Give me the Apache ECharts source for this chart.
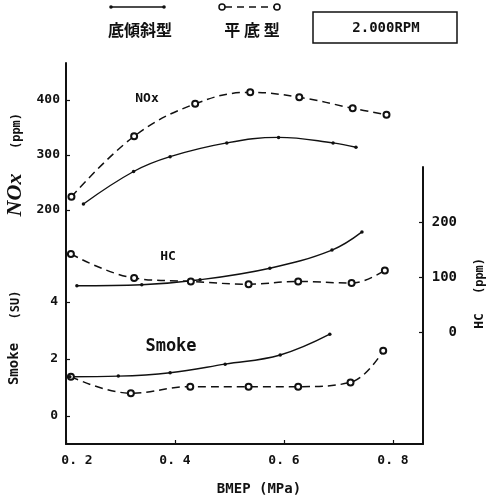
<!DOCTYPE html>
<html>
<head>
<meta charset="utf-8">
<script src="https://cdn.jsdelivr.net/npm/echarts@6/dist/echarts.min.js"></script>
<style>
  html, body { margin: 0; padding: 0; background: #fff; }
  #main { width: 488px; height: 499px; }
</style>
</head>
<body>
<div id="main"></div>
<script>
// BMEP (MPa) positions and values
var bmepNoxFlat = [0.21, 0.325, 0.437, 0.538, 0.628, 0.726, 0.788];
var noxFlat = [224, 334, 393, 414, 405, 385, 373];
var bmepNoxIncl = [0.232, 0.324, 0.391, 0.495, 0.59, 0.69, 0.732];
var noxIncl = [211, 270, 297, 322, 332, 322, 314];

var bmepHcFlat = [0.209, 0.325, 0.429, 0.535, 0.626, 0.724, 0.785];
var hcFlat = [142, 98, 92, 87, 92, 89, 112];
var bmepHcIncl = [0.22, 0.339, 0.446, 0.574, 0.688, 0.743];
var hcIncl = [84, 86, 95, 116, 149, 182];

var bmepSmokeFlat = [0.209, 0.319, 0.428, 0.535, 0.626, 0.722, 0.782];
var smokeFlat = [1.38, 0.80, 1.03, 1.03, 1.03, 1.18, 2.29];
var bmepSmokeIncl = [0.207, 0.296, 0.391, 0.492, 0.593, 0.684];
var smokeIncl = [1.38, 1.40, 1.52, 1.82, 2.14, 2.87];

var xTicks = [0.2, 0.4, 0.6, 0.8];
var noxTicks = [200, 300, 400];
var smokeTicks = [0, 2, 4];
var hcTicks = [0, 100, 200];

var INK = '#111';
var MONO = 'DejaVu Sans Mono';

function pairs(xs, ys) {
  return xs.map(function (x, i) { return [x, ys[i]]; });
}

// 平底型: dashed, open circles
function flatSeries(xs, ys, xi, yi) {
  return {
    type: 'line', xAxisIndex: xi, yAxisIndex: yi,
    data: pairs(xs, ys),
    smooth: 0.4,
    symbol: 'emptyCircle', symbolSize: 6,
    itemStyle: { color: INK, borderWidth: 1.4 },
    lineStyle: { color: INK, width: 1.5, type: [8, 5] },
    animation: false
  };
}

// 底傾斜型: solid, small dots
function inclSeries(xs, ys, xi, yi) {
  return {
    type: 'line', xAxisIndex: xi, yAxisIndex: yi,
    data: pairs(xs, ys),
    smooth: 0.4,
    symbol: 'circle', symbolSize: 3.5,
    itemStyle: { color: INK },
    lineStyle: { color: INK, width: 1.4 },
    animation: false
  };
}

function text(x, y, str, font, rot) {
  return {
    type: 'text', x: x, y: y, rotation: rot || 0,
    style: {
      text: str, fill: INK, font: font,
      align: 'center', verticalAlign: 'middle'
    }
  };
}

var chart = echarts.init(document.getElementById('main'));

function tick(vals) {
  return { inside: true, length: 4, customValues: vals, lineStyle: { color: INK, width: 1.2 } };
}

var option = {
  backgroundColor: '#fff',
  grid: [
    { left: 66, right: 65, top: 63, bottom: 55 },
    { left: 66, right: 65, top: 167, bottom: 55 }
  ],
  xAxis: [
    {
      type: 'value', gridIndex: 0, min: 0.2, max: 0.855,
      splitLine: { show: false },
      axisLine: { onZero: false, lineStyle: { color: INK, width: 2 } },
      axisTick: tick(xTicks),
      axisLabel: {
        customValues: xTicks, margin: 10, color: INK,
        fontFamily: MONO, fontSize: 13, fontWeight: 'bold',
        formatter: function (v) {
          var s = v.toFixed(1).replace('.', '. ');
          return v < 0.3 ? '{a|' + s + '}' : s;
        },
        rich: { a: { fontFamily: MONO, fontSize: 13, fontWeight: 'bold', color: INK, padding: [0, 0, 0, 22] } }
      }
    },
    { type: 'value', gridIndex: 1, min: 0.2, max: 0.855, show: false }
  ],
  yAxis: [
    {
      type: 'value', gridIndex: 0, position: 'left', min: -225.5, max: 467.3,
      splitLine: { show: false },
      axisLine: { show: true, onZero: false, lineStyle: { color: INK, width: 2 } },
      axisTick: tick(noxTicks),
      axisLabel: { customValues: noxTicks, margin: 6, color: INK, fontFamily: MONO, fontSize: 13, fontWeight: 'bold' }
    },
    {
      type: 'value', gridIndex: 0, position: 'left', min: -0.982, max: 12.386,
      splitLine: { show: false },
      axisLine: { show: false },
      axisTick: tick(smokeTicks),
      axisLabel: { customValues: smokeTicks, margin: 8, color: INK, fontFamily: MONO, fontSize: 13, fontWeight: 'bold' }
    },
    {
      type: 'value', gridIndex: 1, position: 'right', min: -203.6, max: 300,
      splitLine: { show: false },
      axisLine: { show: true, onZero: false, lineStyle: { color: INK, width: 2 } },
      axisTick: tick(hcTicks),
      axisLabel: { customValues: hcTicks, margin: 34, align: 'right', color: INK, fontFamily: MONO, fontSize: 14, fontWeight: 'bold' }
    }
  ],
  series: [
    flatSeries(bmepNoxFlat, noxFlat, 0, 0),
    inclSeries(bmepNoxIncl, noxIncl, 0, 0),
    flatSeries(bmepHcFlat, hcFlat, 1, 2),
    inclSeries(bmepHcIncl, hcIncl, 1, 2),
    flatSeries(bmepSmokeFlat, smokeFlat, 0, 1),
    inclSeries(bmepSmokeIncl, smokeIncl, 0, 1)
  ],
  graphic: [
    // legend
    { type: 'line', shape: { x1: 110, y1: 7, x2: 165, y2: 7 }, style: { stroke: INK, lineWidth: 1.4 } },
    { type: 'circle', shape: { cx: 111, cy: 7, r: 1.8 }, style: { fill: INK } },
    { type: 'circle', shape: { cx: 164, cy: 7, r: 1.8 }, style: { fill: INK } },
    { type: 'line', shape: { x1: 225, y1: 7, x2: 274, y2: 7 }, style: { stroke: INK, lineWidth: 1.5, lineDash: [7, 5] } },
    { type: 'circle', shape: { cx: 222, cy: 7, r: 3 }, style: { fill: '#fff', stroke: INK, lineWidth: 1.5 } },
    { type: 'circle', shape: { cx: 277, cy: 7, r: 3 }, style: { fill: '#fff', stroke: INK, lineWidth: 1.5 } },
    text(140, 30, '底傾斜型', 'bold 16px "Noto Sans CJK JP"'),
    text(252, 30, '平 底 型', 'bold 16px "Noto Sans CJK JP"'),
    { type: 'rect', shape: { x: 313, y: 12, width: 144, height: 31 }, style: { fill: 'none', stroke: INK, lineWidth: 1.5 } },
    text(386, 28, '2.000RPM', 'bold 14px ' + MONO),

    // axis names
    text(15, 195, 'NOx', 'bold italic 22px "Liberation Serif"', Math.PI / 2),
    text(17, 131, '(ppm)', 'bold 12px ' + MONO, Math.PI / 2),
    text(14, 364, 'Smoke', 'bold 14px ' + MONO, Math.PI / 2),
    text(16, 305, '(SU)', 'bold 12px ' + MONO, Math.PI / 2),
    text(480, 321, 'HC', 'bold 13px ' + MONO, Math.PI / 2),
    text(480, 276, '(ppm)', 'bold 12px ' + MONO, Math.PI / 2),
    text(259, 489, 'BMEP (MPa)', 'bold 14px ' + MONO),

    // curve labels
    text(147, 99, 'NOx', 'bold 13px ' + MONO),
    text(168, 257, 'HC', 'bold 13px ' + MONO),
    text(171, 347, 'Smoke', 'bold 17px ' + MONO)
  ]
};

chart.setOption(option);
</script>
</body>
</html>
